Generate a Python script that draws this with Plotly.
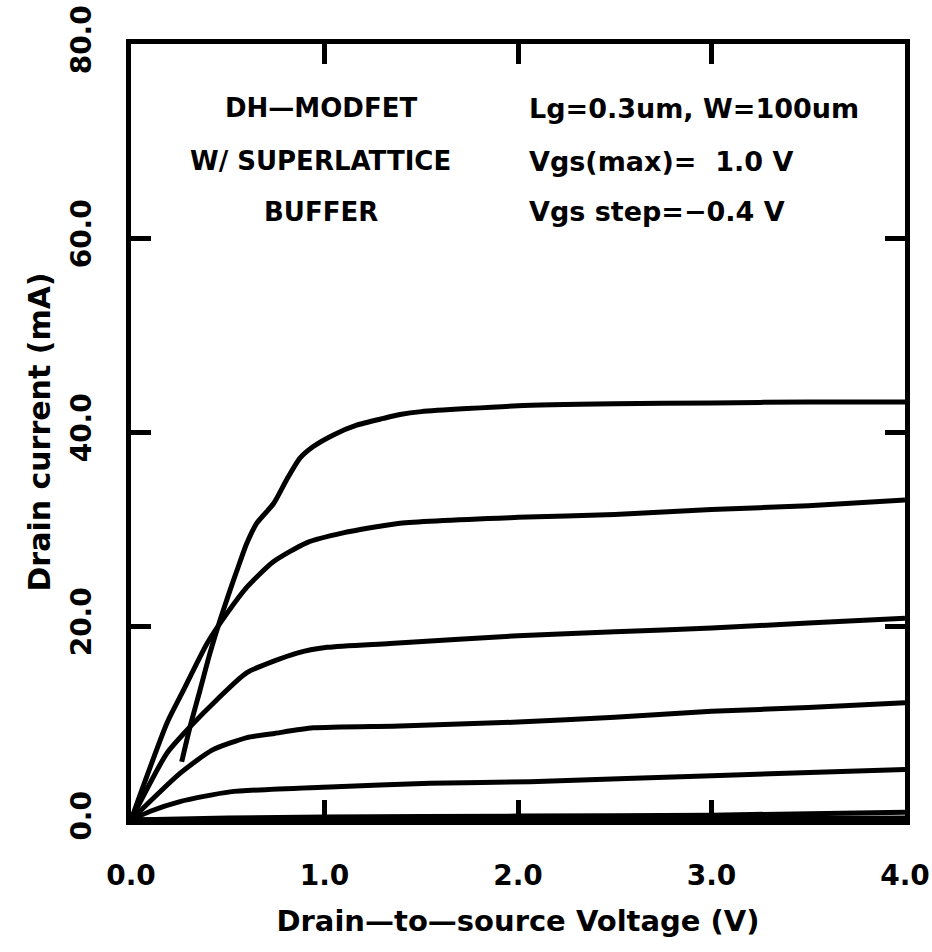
import plotly.graph_objects as go

# Drain-current characteristics, one curve per gate-source voltage step
vgs_labels = ["1.0 V", "0.6 V", "0.2 V", "-0.2 V", "-0.6 V", "-1.0 V", "-1.4 V"]

vds_1 = [0.262, 0.305, 0.357, 0.408, 0.460, 0.512, 0.563, 0.598, 0.650, 0.736,
         0.805, 0.873, 0.942, 1.046, 1.166, 1.304, 1.390, 1.5, 2.0, 2.5, 3.0, 3.5, 4.0]
id_1 = [6.0, 9.6, 13.4, 17.2, 20.6, 23.7, 26.6, 28.5, 30.6, 32.6,
        35.1, 37.3, 38.5, 39.7, 40.7, 41.4, 41.8, 42.1, 42.7, 42.9, 43.0, 43.1, 43.1]

vds_2 = [0.0, 0.186, 0.264, 0.393, 0.496, 0.599, 0.734, 0.910, 1.096, 1.390, 2.0, 2.5, 3.0, 3.5, 4.0]
id_2 = [0.0, 10.0, 13.1, 18.2, 21.3, 24.0, 26.6, 28.6, 29.6, 30.6, 31.2, 31.5, 32.0, 32.4, 33.0]

vds_3 = [0.0, 0.186, 0.305, 0.444, 0.599, 0.858, 1.013, 1.338, 2.0, 2.5, 3.0, 3.5, 4.0]
id_3 = [0.0, 6.9, 9.6, 12.4, 15.2, 17.2, 17.8, 18.2, 19.0, 19.4, 19.8, 20.3, 20.8]

vds_4 = [0.0, 0.253, 0.419, 0.599, 0.734, 0.941, 1.39, 2.0, 2.5, 3.0, 3.5, 4.0]
id_4 = [0.0, 4.8, 7.2, 8.5, 8.9, 9.5, 9.7, 10.1, 10.6, 11.2, 11.6, 12.1]

vds_5 = [0.0, 0.1, 0.253, 0.512, 1.028, 1.545, 2.062, 3.04, 4.0]
id_5 = [0.0, 0.9, 1.9, 2.9, 3.4, 3.8, 3.95, 4.6, 5.2]

vds_6 = [0.0, 0.5, 1.0, 2.0, 3.0, 4.0]
id_6 = [0.0, 0.2, 0.3, 0.4, 0.5, 0.8]

vds_7 = [0.0, 0.5, 1.0, 2.0, 3.0, 4.0]
id_7 = [0.0, 0.05, 0.1, 0.1, 0.15, 0.2]

x_ticks = [0, 1, 2, 3, 4]
x_tick_text = ["0.0", "1.0", "2.0", "3.0", "4.0"]
y_ticks = [0, 20, 40, 60, 80]
y_tick_text = ["0.0", "20.0", "40.0", "60.0", "80.0"]

left_notes = ["DH\u2014MODFET", "W/ SUPERLATTICE", "BUFFER"]
right_notes = ["Lg=0.3um, W=100um", "Vgs(max)=  1.0 V", "Vgs step=\u22120.4 V"]
note_rows = [73.4, 67.9, 62.7]

FONT = "DejaVu Sans"

fig = go.Figure()
series = [(vds_1, id_1), (vds_2, id_2), (vds_3, id_3), (vds_4, id_4),
          (vds_5, id_5), (vds_6, id_6), (vds_7, id_7)]
for (vx, iy), name in zip(series, vgs_labels):
    fig.add_trace(go.Scatter(
        x=vx, y=iy, mode="lines", name="Vgs=" + name,
        line=dict(color="black", width=5, shape="spline", smoothing=0.6),
        showlegend=False,
    ))

for row, txt in zip(note_rows, left_notes):
    fig.add_annotation(x=0.98, y=row, xref="x", yref="y", text=txt,
                       showarrow=False, xanchor="center", yanchor="middle",
                       font=dict(family=FONT, size=26, color="black", weight="bold"))
for row, txt in zip(note_rows, right_notes):
    fig.add_annotation(x=2.047, y=row, xref="x", yref="y", text=txt,
                       showarrow=False, xanchor="left", yanchor="middle",
                       font=dict(family=FONT, size=27, color="black", weight="bold"))

axis_common = dict(
    showline=True, linecolor="black", linewidth=5, mirror="ticks",
    ticks="inside", ticklen=20, tickwidth=5, tickcolor="black",
    showgrid=False, zeroline=False,
    tickfont=dict(family=FONT, size=28, color="black", weight="bold"),
)

fig.update_xaxes(
    range=[0, 4], tickvals=x_ticks, ticktext=x_tick_text,
    ticklabelstandoff=26,
    title=dict(text="Drain\u2014to\u2014source Voltage (V)", standoff=22,
               font=dict(family=FONT, size=29, color="black", weight="bold")),
    **axis_common,
)
fig.update_yaxes(
    range=[0, 80], tickvals=y_ticks, ticktext=y_tick_text, tickangle=-90,
    ticklabelstandoff=24,
    title=dict(text="Drain current (mA)", standoff=7,
               font=dict(family=FONT, size=30, color="black", weight="bold")),
    **axis_common,
)

fig.update_layout(
    width=932, height=952,
    margin=dict(l=131, r=27, t=44, b=132, autoexpand=False),
    paper_bgcolor="white", plot_bgcolor="white",
)

fig.write_html("out.html")
